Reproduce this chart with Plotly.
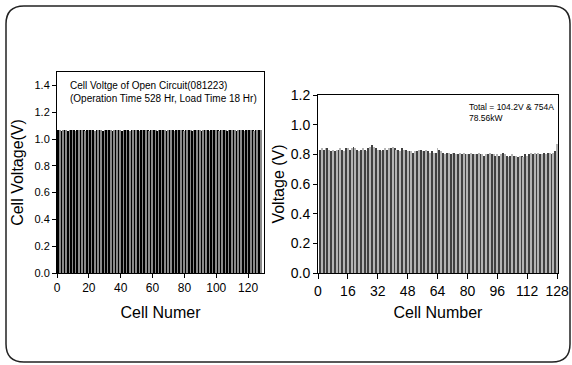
import plotly.graph_objects as go

# ---- data ----
cells = list(range(1, 129))

ocv_values = [1.07, 1.07, 1.06, 1.07, 1.07, 1.07, 1.06, 1.07, 1.07, 1.07, 1.07, 1.06, 1.07, 1.07, 1.07, 1.07,
              1.07, 1.06, 1.07, 1.07, 1.07, 1.07, 1.07, 1.06, 1.07, 1.07, 1.07, 1.07, 1.06, 1.07, 1.07, 1.07,
              1.07, 1.07, 1.06, 1.07, 1.07, 1.07, 1.07, 1.07, 1.06, 1.07, 1.07, 1.07, 1.07, 1.06, 1.07, 1.07,
              1.07, 1.07, 1.07, 1.06, 1.07, 1.07, 1.07, 1.07, 1.07, 1.06, 1.07, 1.07, 1.07, 1.07, 1.06, 1.07,
              1.07, 1.07, 1.07, 1.07, 1.06, 1.07, 1.07, 1.07, 1.07, 1.06, 1.07, 1.07, 1.07, 1.07, 1.07, 1.06,
              1.07, 1.07, 1.07, 1.07, 1.06, 1.07, 1.07, 1.07, 1.07, 1.07, 1.06, 1.07, 1.07, 1.07, 1.07, 1.06,
              1.07, 1.07, 1.07, 1.07, 1.07, 1.06, 1.07, 1.07, 1.07, 1.07, 1.06, 1.07, 1.07, 1.07, 1.07, 1.07,
              1.06, 1.07, 1.07, 1.07, 1.07, 1.06, 1.07, 1.07, 1.07, 1.07, 1.07, 1.06, 1.07, 1.07, 1.07, 1.07]

load_values = [0.83, 0.84, 0.83, 0.84, 0.84, 0.83, 0.82, 0.83,
               0.82, 0.83, 0.83, 0.84, 0.83, 0.82, 0.84, 0.84,
               0.83, 0.84, 0.85, 0.84, 0.83, 0.82, 0.83, 0.84,
               0.83, 0.82, 0.84, 0.85, 0.86, 0.85, 0.84, 0.83,
               0.83, 0.82, 0.83, 0.84, 0.83, 0.84, 0.84, 0.85,
               0.84, 0.83, 0.83, 0.82, 0.84, 0.83, 0.83, 0.82,
               0.82, 0.82, 0.81, 0.82, 0.82, 0.83, 0.83, 0.82,
               0.82, 0.83, 0.82, 0.81, 0.82, 0.81, 0.81, 0.84,
               0.83, 0.82, 0.81, 0.80, 0.81, 0.81, 0.80, 0.81,
               0.81, 0.80, 0.80, 0.81, 0.80, 0.81, 0.80, 0.80,
               0.80, 0.81, 0.80, 0.80, 0.80, 0.81, 0.80, 0.80,
               0.79, 0.80, 0.80, 0.81, 0.80, 0.80, 0.79, 0.80,
               0.79, 0.80, 0.81, 0.80, 0.79, 0.78, 0.79, 0.80,
               0.79, 0.79, 0.78, 0.79, 0.79, 0.78, 0.80, 0.79,
               0.80, 0.81, 0.80, 0.81, 0.80, 0.81, 0.80, 0.80,
               0.81, 0.80, 0.81, 0.81, 0.80, 0.81, 0.82, 0.87]

left_xticks = [0, 20, 40, 60, 80, 100, 120]
left_yticks = [0.0, 0.2, 0.4, 0.6, 0.8, 1.0, 1.2, 1.4]
right_xticks = [0, 16, 32, 48, 64, 80, 96, 112, 128]
right_yticks = [0.0, 0.2, 0.4, 0.6, 0.8, 1.0, 1.2]

left_colors = ["#000000" if i % 2 == 0 else "#8a8a8a" for i in range(len(cells))]
right_colors = ["#404040" if i % 2 == 0 else "#b4b4b4" for i in range(len(cells))]

W, H = 572, 365
def px(x):
    return x / W
def py(y):
    return (H - y) / H

fig = go.Figure()
fig.add_trace(go.Bar(x=cells, y=ocv_values, marker=dict(color=left_colors, line=dict(width=0)),
                     width=0.9, xaxis="x", yaxis="y", showlegend=False))
fig.add_trace(go.Bar(x=cells, y=load_values, marker=dict(color=right_colors, line=dict(width=0)),
                     width=0.5, xaxis="x2", yaxis="y2", showlegend=False))

font_main = "Liberation Sans, Arial, sans-serif"
common = dict(ticks="outside", tickcolor="black", showline=True, linecolor="black",
              mirror=True, showgrid=False, zeroline=False, automargin=False)

fig.update_layout(
    width=W, height=H,
    margin=dict(l=0, r=0, t=0, b=0, pad=0, autoexpand=False),
    paper_bgcolor="white", plot_bgcolor="white",
    bargap=0,
    xaxis=dict(domain=[px(57), px(264)], range=[0, 130], tickvals=left_xticks, ticklen=4,
               tickfont=dict(family=font_main, size=12, color="black"),
               title=dict(text="Cell Numer", font=dict(family=font_main, size=16, color="black"), standoff=12),
               anchor="y", **common),
    yaxis=dict(domain=[py(273), py(72)], range=[0, 1.5], tickvals=left_yticks, ticklen=4,
               tickformat=".1f",
               tickfont=dict(family=font_main, size=11, color="black"),
               title=dict(text="Cell Voltage(V)", font=dict(family=font_main, size=16, color="black"), standoff=6),
               anchor="x", **common),
    xaxis2=dict(domain=[px(318), px(558)], range=[0, 128.5], tickvals=right_xticks, ticklen=5,
                tickfont=dict(family=font_main, size=14, color="black"),
                title=dict(text="Cell Number", font=dict(family=font_main, size=16, color="black"), standoff=9),
                anchor="y2", **common),
    yaxis2=dict(domain=[py(273), py(95)], range=[0, 1.2], tickvals=right_yticks, ticklen=4,
                tickformat=".1f",
                tickfont=dict(family=font_main, size=14, color="black"),
                title=dict(text="Voltage (V)", font=dict(family=font_main, size=16, color="black"), standoff=2),
                anchor="x2", **common),
)

fig.add_annotation(xref="paper", yref="paper", x=px(68), y=py(78), xanchor="left", yanchor="top",
                   text="Cell Voltge of Open Circuit(081223)<br>(Operation Time 528 Hr, Load Time 18 Hr)",
                   showarrow=False, align="left",
                   font=dict(family=font_main, size=10, color="black"))
fig.add_annotation(xref="paper", yref="paper", x=px(467), y=py(100), xanchor="left", yanchor="top",
                   text="Total = 104.2V & 754A<br>78.56kW",
                   showarrow=False, align="left",
                   font=dict(family=font_main, size=8.5, color="black"))

# rounded outer frame
L, R, T, B, r = 6, 570, 6, 362, 18
path = (f"M {px(L+r)},{py(T)} L {px(R-r)},{py(T)} Q {px(R)},{py(T)} {px(R)},{py(T+r)} "
        f"L {px(R)},{py(B-r)} Q {px(R)},{py(B)} {px(R-r)},{py(B)} "
        f"L {px(L+r)},{py(B)} Q {px(L)},{py(B)} {px(L)},{py(B-r)} "
        f"L {px(L)},{py(T+r)} Q {px(L)},{py(T)} {px(L+r)},{py(T)} Z")
fig.add_shape(type="path", xref="paper", yref="paper", path=path,
              line=dict(color="#222222", width=1.5), fillcolor="rgba(0,0,0,0)")

fig.write_html("out.html", config={"displayModeBar": False},
               post_script="document.body.style.margin='0';document.body.style.overflow='hidden';")
